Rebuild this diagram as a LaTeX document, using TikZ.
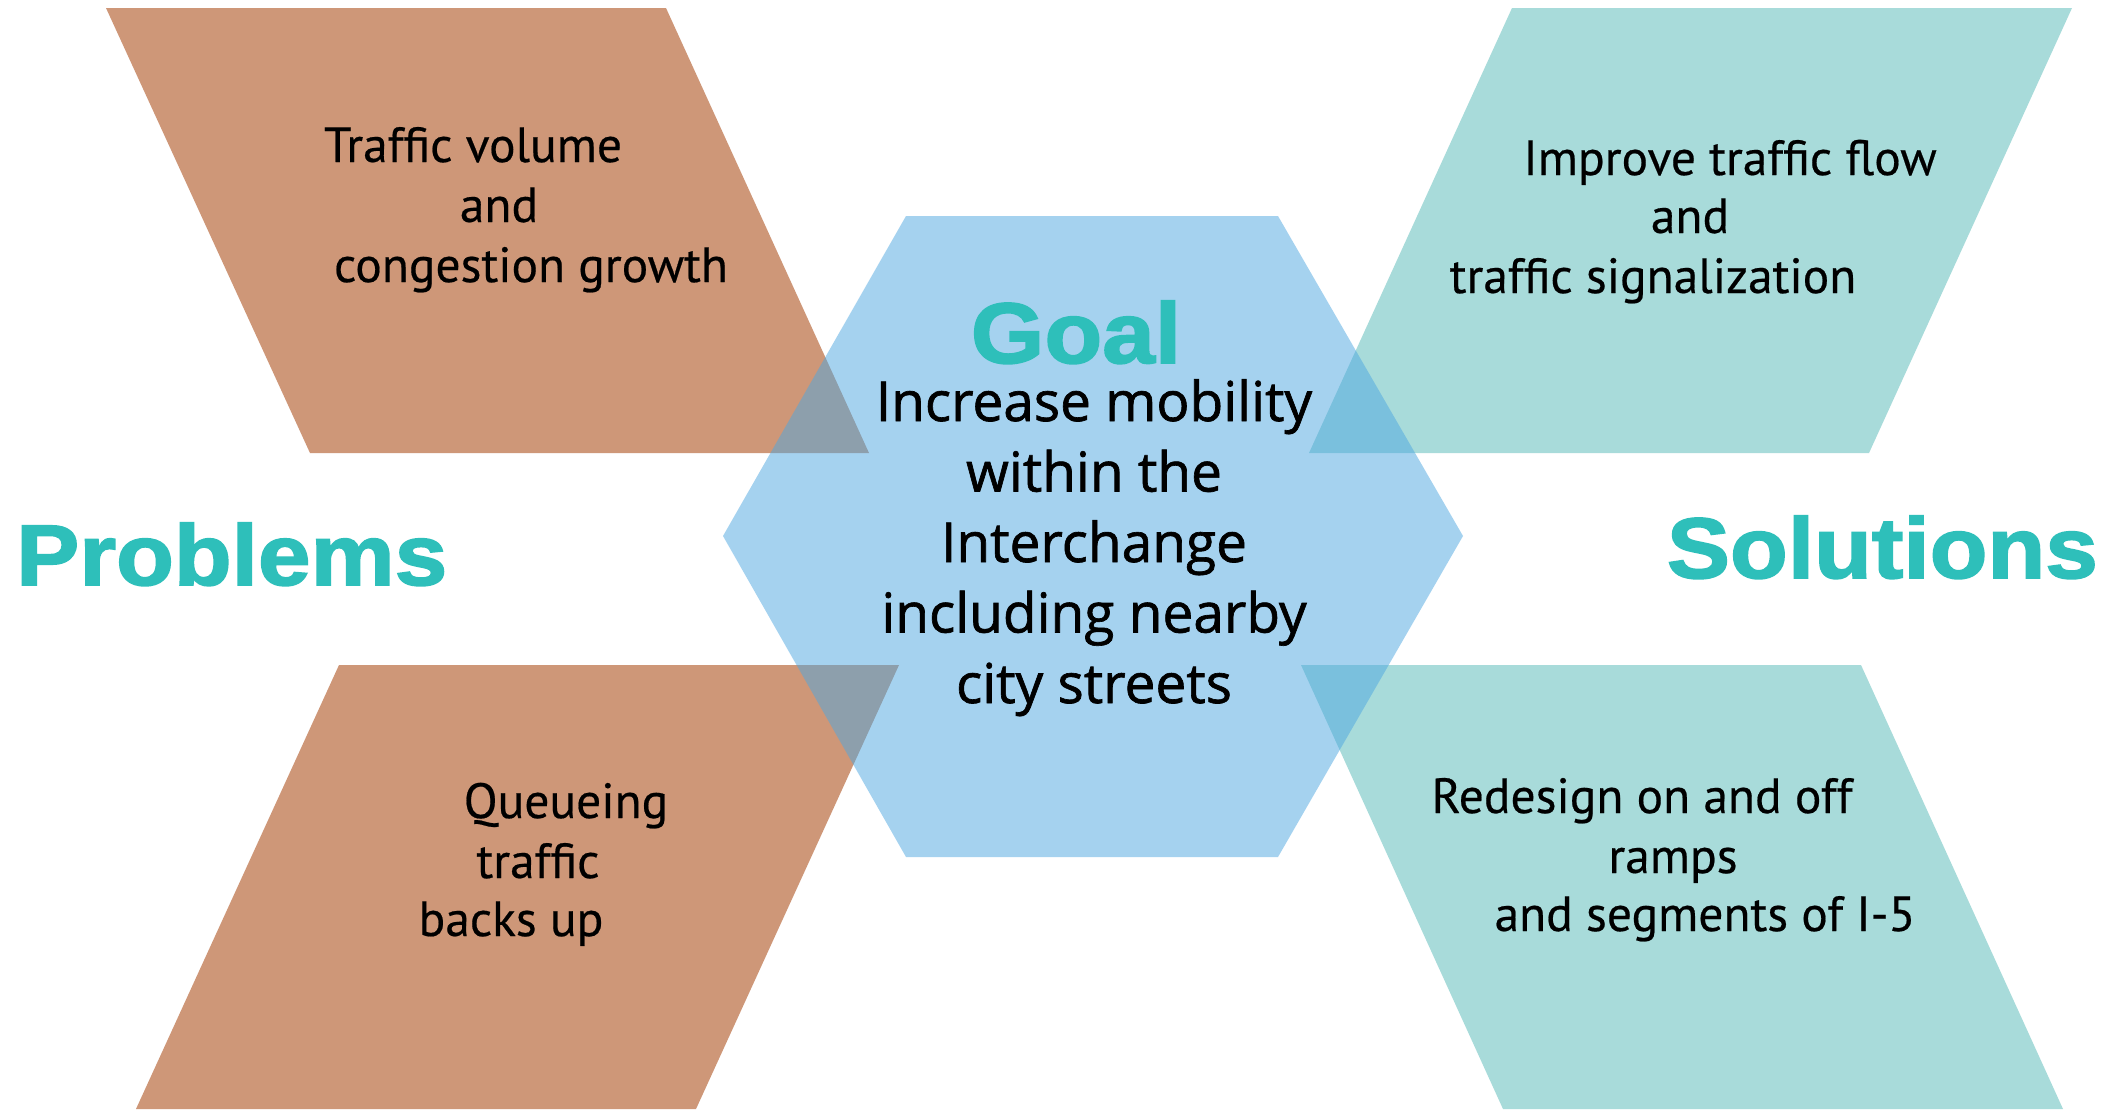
\documentclass[tikz,border=0pt]{standalone}
\usepackage{fontspec}
\setmainfont[FakeBold=0.4]{PT Sans}
\newfontfamily\headfont[FakeStretch=1.1,FakeBold=2]{Liberation Sans}
\newfontfamily\midfont[FakeBold=1.2]{Open Sans}
\definecolor{brownc}{RGB}{206,151,120}
\definecolor{tealc}{RGB}{168,219,218}
\definecolor{hexblue}{RGB}{77,167,225}
\definecolor{titlec}{RGB}{46,191,186}
\tikzset{
  headst/.style={inner sep=0pt, text=titlec, font={\headfont\bfseries\fontsize{86}{86}\selectfont}},
  midst/.style={inner sep=0pt, text=black, align=center, font={\midfont\fontsize{55}{70.5}\selectfont}},
  cornst/.style={inner sep=0pt, text=black, anchor=base, font={\fontsize{49.5}{58}\selectfont}}
}
\begin{document}
\begin{tikzpicture}[x=1pt,y=-1pt]
\useasboundingbox (0,0) rectangle (2120,1109);
\fill[white] (0,0) rectangle (2120,1109);
% parallelograms
\fill[brownc] (106,8) -- (666,8) -- (869,453) -- (310,453) -- cycle;
\fill[tealc] (1512,8) -- (2072,8) -- (1869,453) -- (1309,453) -- cycle;
\fill[brownc] (339,665) -- (899,665) -- (696,1109) -- (136,1109) -- cycle;
\fill[tealc] (1301,665) -- (1861,665) -- (2063,1109) -- (1503,1109) -- cycle;
% hexagon
\fill[hexblue, fill opacity=0.5] (906,216) -- (1278,216) -- (1463,536) -- (1278,857) -- (906,857) -- (723,536) -- cycle;
% titles
\node[headst, anchor=base west] (problems) at (16,585) {Problems};
\node[headst, anchor=base east] (solutions) at (2098,578) {Solutions};
\node[headst, anchor=base] (goal) at (1076,363) {Goal};
% goal text
\node[midst, anchor=base] (goaltext) at (1094,703) {Increase mobility\\within the\\Interchange\\including nearby\\city streets};
% corner texts
\node[cornst] (p1a) at (473,162) {Traffic volume};
\node[cornst] (p1b) at (499,222) {and};
\node[cornst] (p1c) at (531,282) {congestion growth};
\node[cornst] (s1a) at (1730,175) {Improve traffic flow};
\node[cornst] (s1b) at (1690,233) {and};
\node[cornst] (s1c) at (1653,293) {traffic signalization};
\node[cornst] (p2a) at (566,818) {Queueing};
\node[cornst] (p2b) at (538,878) {traffic};
\node[cornst] (p2c) at (511,936) {backs up};
\node[cornst] (s2a) at (1642,813) {Redesign on and off};
\node[cornst] (s2b) at (1673,873) {ramps};
\node[cornst] (s2c) at (1705,931) {and segments of I-5};
\end{tikzpicture}
\end{document}
